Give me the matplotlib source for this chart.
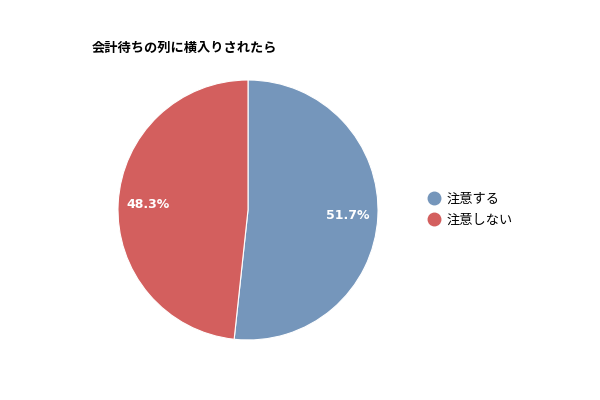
import matplotlib.pyplot as plt
from matplotlib.lines import Line2D

plt.rcParams['font.family'] = ['Noto Sans CJK JP', 'DejaVu Sans']

title = "会計待ちの列に横入りされたら"
labels = ["注意する", "注意しない"]
values = [51.7, 48.3]
colors = ["#7596bb", "#d35f5e"]

fig = plt.figure(figsize=(6, 4), dpi=100)
ax = fig.add_axes([(248 - 130) / 600, (400 - 210 - 130) / 400, 260 / 600, 260 / 400])
wedges, texts, autotexts = ax.pie(
    values, colors=colors, startangle=90, counterclock=False,
    autopct="%.1f%%", pctdistance=0.77,
    wedgeprops=dict(edgecolor="white", linewidth=0.8),
    textprops=dict(color="white", fontsize=9, fontweight="bold", family=["DejaVu Sans"]),
)
ax.set_aspect("equal")
ax.set_xlim(-1, 1)
ax.set_ylim(-1, 1)

fig.text(92 / 600, 1 - 48 / 400, title, fontsize=9.5, fontweight="bold",
         ha="left", va="center")

handles = [Line2D([], [], marker="o", linestyle="", markersize=9,
                  markerfacecolor=c, markeredgecolor=c) for c in colors]
fig.legend(handles, labels, loc="center left", bbox_to_anchor=(414 / 600, 1 - 210 / 400),
           frameon=False, fontsize=9.5, handletextpad=0.4, labelspacing=0.6,
           handlelength=1.2)

fig.savefig("out.png", dpi=100)
